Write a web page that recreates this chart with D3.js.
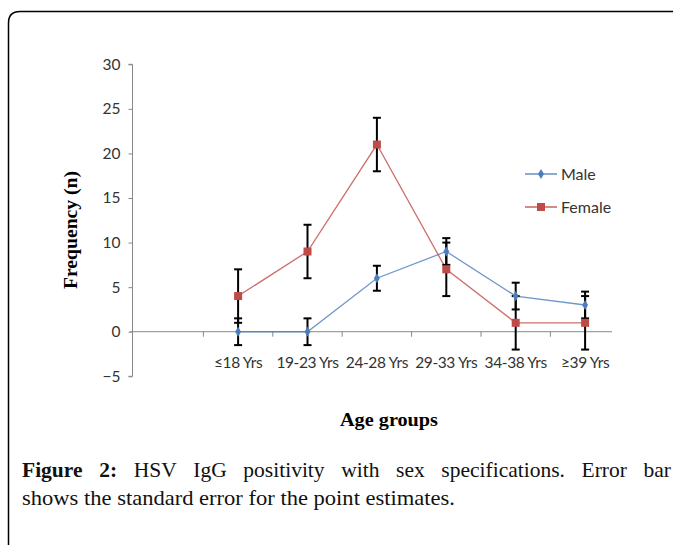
<!DOCTYPE html>
<html><head><meta charset="utf-8">
<script src="https://cdn.jsdelivr.net/npm/d3@7"></script>
<style>body{margin:0;background:#fff}svg{display:block}</style>
</head><body>
<script>
const categories = ["", "≤18 Yrs", "19-23 Yrs", "24-28 Yrs", "29-33 Yrs", "34-38 Yrs", "≥39 Yrs"];
const groups = ["≤18 Yrs", "19-23 Yrs", "24-28 Yrs", "29-33 Yrs", "34-38 Yrs", "≥39 Yrs"];
const maleValues = [0, 0, 6, 9, 4, 3];
const femaleValues = [4, 9, 21, 7, 1, 1];
const maleError = [1.5, 1.5, 1.4, 1.5, 1.5, 1.5];
const femaleError = [3, 3, 3, 3, 3, 3];
const yTicks = [-5, 0, 5, 10, 15, 20, 25, 30];
const seriesNames = ["Male", "Female"];
const seriesColors = ["#4a7ebb", "#be4b48"];

const W = 673, H = 545;
const svg = d3.select("body").append("svg").attr("width", W).attr("height", H);

// frame
svg.append("path").attr("d", "M8.5,545 L8.5,23 Q8.5,11.5 20,11.5 L673,11.5")
  .attr("fill", "none").attr("stroke", "#000").attr("stroke-width", 1.5);

const y = d3.scaleLinear().domain([-5, 30]).range([376.3, 64.3]);
const x = d3.scaleBand().domain(categories).range([134, 619.8]);
const cx = c => x(c) + x.bandwidth() / 2;
const axisX0 = 132.5, axisX1 = 612;
const tickFont = "Lato, 'Open Sans', sans-serif";

// y axis
const yAxis = d3.axisLeft(y).tickValues(yTicks).tickSize(4).tickPadding(8);
const gy = svg.append("g").attr("transform", `translate(${axisX0},0)`).call(yAxis);
gy.select(".domain").attr("stroke", "#888").attr("d", `M-4,${y(-5)}H0V${y(30)}H-4`);
gy.selectAll(".tick line").attr("stroke", "#888");
gy.selectAll(".tick text").attr("font-family", tickFont).attr("font-size", 15.5).attr("fill", "#333");

// x axis at y=0
const gx = svg.append("g");
gx.append("line").attr("x1", 130).attr("x2", axisX1).attr("y1", y(0)).attr("y2", y(0)).attr("stroke", "#888").attr("stroke-width", 1);
gx.selectAll("line.t").data(categories.slice(1)).join("line").attr("class", "t")
  .attr("x1", d => x(d)).attr("x2", d => x(d)).attr("y1", y(0)).attr("y2", y(0) + 5).attr("stroke", "#888");
gx.selectAll("text").data(categories).join("text")
  .attr("x", d => cx(d)).attr("y", 367.5).attr("text-anchor", "middle")
  .attr("font-family", tickFont).attr("font-size", 15.5).attr("fill", "#333")
  .attr("letter-spacing", -0.4)
  .text(d => d);

// lines
const line = d3.line().x(d => cx(d[0])).y(d => y(d[1]));
const series = [
  {name: seriesNames[0], color: seriesColors[0], vals: maleValues, err: maleError},
  {name: seriesNames[1], color: seriesColors[1], vals: femaleValues, err: femaleError}
];
series.forEach(s => {
  const pts = groups.map((g, i) => [g, s.vals[i]]);
  svg.append("path").datum(pts).attr("d", line).attr("fill", "none")
    .attr("stroke", s.color).attr("stroke-width", 1.3).attr("opacity", 0.8);
});
function marker(g, name, color, px, py) {
  if (name === "Male") {
    g.append("path").attr("d", d3.symbol(d3.symbolDiamond, 30)()).attr("transform", `translate(${px},${py})`).attr("fill", color);
  } else {
    g.append("rect").attr("x", px - 4).attr("y", py - 4).attr("width", 8).attr("height", 8).attr("fill", color);
  }
}
// error bars
const eg = svg.append("g");
series.forEach(s => {
  groups.forEach((g, i) => {
    const px = cx(g), v = s.vals[i], e = s.err[i];
    eg.append("line").attr("x1", px).attr("x2", px).attr("y1", y(v + e)).attr("y2", y(v - e)).attr("stroke", "#000").attr("stroke-width", 2);
    [v + e, v - e].forEach(t => eg.append("line").attr("x1", px - 4).attr("x2", px + 4).attr("y1", y(t)).attr("y2", y(t)).attr("stroke", "#000").attr("stroke-width", 2));
  });
});
series.forEach(s => groups.forEach((g, i) => marker(svg, s.name, s.color, cx(g), y(s.vals[i]))));

// legend
const leg = svg.append("g");
series.forEach((s, i) => {
  const ly = 174 + i * 33;
  leg.append("line").attr("x1", 525).attr("x2", 557).attr("y1", ly).attr("y2", ly).attr("stroke", s.color).attr("stroke-width", 1.3);
  marker(leg, s.name, s.color, 541, ly);
  leg.append("text").attr("x", 561).attr("y", ly + 5.5).attr("font-family", tickFont).attr("font-size", 16).attr("fill", "#333").text(s.name);
});

// axis titles
const serif = "'Liberation Serif', 'Times New Roman', serif";
svg.append("text").attr("transform", "translate(77,230) rotate(-90)").attr("text-anchor", "middle")
  .attr("font-family", serif).attr("font-weight", "bold").attr("font-size", 18)
  .attr("textLength", 118).attr("lengthAdjust", "spacingAndGlyphs").text("Frequency (n)");
svg.append("text").attr("x", 389).attr("y", 426).attr("text-anchor", "middle")
  .attr("font-family", serif).attr("font-weight", "bold").attr("font-size", 18)
  .attr("textLength", 98).attr("lengthAdjust", "spacingAndGlyphs").text("Age groups");

// caption, line 1 justified
const line1 = [{t: "Figure", b: true}, {t: "2:", b: true}, {t: "HSV"}, {t: "IgG"}, {t: "positivity"}, {t: "with"}, {t: "sex"}, {t: "specifications."}, {t: "Error"}, {t: "bar"}];
const cap = svg.append("g");
const words = line1.map(w => cap.append("text").attr("y", 477).attr("font-family", serif)
  .attr("font-weight", w.b ? "bold" : "normal").attr("font-size", 21.5).attr("fill", "#111").text(w.t));
const widths = words.map(w => w.node().getComputedTextLength());
const startX = 22, endX = 671;
const gap = (endX - startX - d3.sum(widths)) / (words.length - 1);
let cur = startX;
words.forEach((w, i) => { w.attr("x", cur); cur += widths[i] + gap; });
cap.append("text").attr("x", 22).attr("y", 505).attr("font-family", serif).attr("font-size", 21.5).attr("fill", "#111")
  .attr("textLength", 433).attr("lengthAdjust", "spacingAndGlyphs")
  .text("shows the standard error for the point estimates.");
</script>
</body></html>
